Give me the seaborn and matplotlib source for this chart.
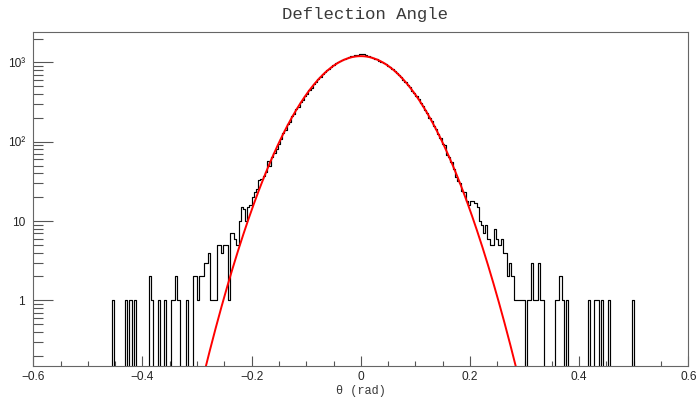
import numpy as np
import pandas as pd
import matplotlib
matplotlib.use("Agg")
import matplotlib.pyplot as plt
import matplotlib.ticker as mticker
import seaborn as sns

# histogram binning: 300 bins over [-0.6, 0.6] rad
n_bins = 300
theta_min, theta_max = -0.6, 0.6

# isolated outlier bins (bin centre in rad, entries)
left_tail_theta = [-0.454, -0.430, -0.422, -0.414, -0.386, -0.382, -0.370,
                   -0.358, -0.346, -0.342, -0.338, -0.334, -0.318]
left_tail_counts = [1, 1, 1, 1, 2, 1, 1, 1, 1, 1, 2, 1, 1]

right_tail_theta = [0.358, 0.362, 0.366, 0.370, 0.378, 0.418, 0.430,
                    0.434, 0.442, 0.454, 0.498]
right_tail_counts = [1, 1, 2, 1, 1, 1, 1, 1, 1, 1, 1]

# contiguous part of the histogram, first bin centred at -0.306 rad
core_first_center = -0.306
core_counts = [
    # -0.306 .. -0.150
    2, 2, 1, 2, 2, 3, 3, 4, 1, 1, 1, 5, 5, 4, 5, 5, 1, 7, 7, 6,
    5, 10, 15, 14, 10, 15, 16, 20, 23, 25, 33, 34, 37, 42, 57, 50, 65, 72, 80, 95,
    # -0.146 .. -0.002
    108, 130, 139, 166, 178, 210, 222, 259, 276, 318, 337, 382, 405, 455, 480,
    534, 560, 620, 650, 710, 748, 795, 838, 888, 925, 970, 1010, 1050, 1085,
    1120, 1140, 1175, 1200, 1215, 1235, 1255, 1275,
    # 0.002 .. 0.150
    1295, 1285, 1250, 1215, 1185, 1150, 1120, 1090, 1050, 1010, 980, 945, 905,
    870, 818, 785, 735, 695, 650, 603, 570, 520, 490, 442, 415, 372, 345, 305,
    285, 250, 232, 200, 185, 158, 146, 124, 113, 95,
    # 0.154 .. 0.334
    90, 68, 65, 55, 45, 36, 32, 30, 24, 23, 18, 16, 18, 18, 17, 15, 10, 9, 7, 9,
    6, 5, 5, 8, 6, 5, 6, 4, 4, 2, 3, 2, 1, 1, 1, 1, 1, 0, 1, 1, 3, 1, 1, 3, 1, 1,
]

# gaussian fit (red curve) parameters
fit_const = 1200.0
fit_mean = 0.0
fit_sigma = 0.0669

edges = np.linspace(theta_min, theta_max, n_bins + 1)
bin_w = edges[1] - edges[0]
core_theta = core_first_center + bin_w * np.arange(len(core_counts))

df = pd.DataFrame({
    "theta": np.concatenate([left_tail_theta, core_theta, right_tail_theta]),
    "entries": np.concatenate([left_tail_counts, core_counts, right_tail_counts]),
})

sns.set_style("white")
plt.rcParams["font.family"] = ["Liberation Sans", "DejaVu Sans"]

fig = plt.figure(figsize=(6.98, 3.98), dpi=100)
ax = fig.add_axes([33.3 / 698, 1 - 365.7 / 398, 655 / 698, 334 / 398])

sns.histplot(data=df, x="theta", weights="entries", bins=edges.tolist(),
             element="step", fill=False, color="black", linewidth=0.85, ax=ax)

xf = np.linspace(theta_min, theta_max, 1201)
yf = fit_const * np.exp(-0.5 * ((xf - fit_mean) / fit_sigma) ** 2)
sns.lineplot(x=xf, y=yf, color="red", linewidth=1.4, sort=False,
             estimator=None, ax=ax)

ax.set_yscale("log")
ax.set_xlim(theta_min, theta_max)
ax.set_ylim(0.15, 2440)

ax.xaxis.set_major_locator(mticker.MultipleLocator(0.2))
ax.xaxis.set_minor_locator(mticker.MultipleLocator(0.05))
ax.xaxis.set_major_formatter(mticker.FuncFormatter(
    lambda v, _: "0" if abs(v) < 1e-9 else f"{v:.1f}".replace("-", "\u2212")))

ax.set_yticks([1, 10, 100, 1000], ["1", "10", "10\u00b2", "10\u00b3"])
ax.yaxis.set_minor_locator(mticker.LogLocator(base=10, subs=np.arange(2, 10)))
ax.yaxis.set_minor_formatter(mticker.NullFormatter())

ax.tick_params(axis="x", which="both", bottom=True, top=False)
ax.tick_params(axis="y", which="both", left=True, right=False)
ax.tick_params(axis="x", which="major", direction="in", length=7.2, width=0.8,
               color="#555555", labelsize=8.6, pad=4)
ax.tick_params(axis="x", which="minor", direction="in", length=3.6, width=0.8,
               color="#555555")
ax.tick_params(axis="y", which="major", direction="in", length=14.4, width=0.8,
               color="#555555", labelsize=8.6, pad=6)
ax.tick_params(axis="y", which="minor", direction="in", length=7.2, width=0.8,
               color="#555555")
for s in ax.spines.values():
    s.set_color("#666666")
    s.set_linewidth(0.8)

ax.set_xlabel("")
ax.set_ylabel("")

fig.text(365 / 698, 1 - 15 / 398, "Deflection Angle", ha="center", va="center",
         family="Liberation Mono", fontsize=12.5, color="#3a3a3a")
fig.text(360.7 / 698, 1 - 391 / 398, "\u03b8 (rad)", ha="center", va="center",
         family=["Liberation Mono", "DejaVu Sans"], fontsize=8.6, color="#3a3a3a")

fig.savefig("out.png", dpi=100)
